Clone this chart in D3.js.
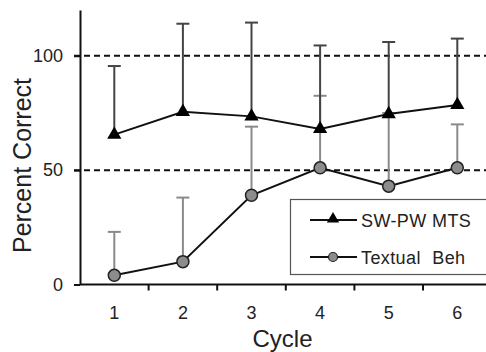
<!DOCTYPE html>
<html>
<head>
<meta charset="utf-8">
<script src="https://cdn.jsdelivr.net/npm/d3@7"></script>
<style>
  body { margin: 0; background: #fff; }
  svg { display: block; font-family: "Liberation Sans", Arial, sans-serif; }
  .axis text { font-size: 18px; fill: #222; }
  .axis path, .axis line { stroke: #111; stroke-width: 2; }
</style>
</head>
<body>
<div id="chart"></div>
<script>
// chart data
var cycles = [1, 2, 3, 4, 5, 6];
var mtsMean = [65.5, 75.5, 73.5, 68, 74.5, 78.5];
var mtsUpper = [95.5, 114, 114.5, 104.5, 106, 107.5];
var textMean = [4, 10, 39, 51, 43, 51];
var textUpper = [23, 38, 69, 82.5, 75, 70];
var yTicks = [0, 50, 100];
var gridLines = [50, 100];
var seriesNames = ["SW-PW MTS", "Textual Beh"];

var width = 486, height = 352;
var margin = {top: 10, left: 80, bottom: 67.5};

var svg = d3.select("#chart").append("svg")
    .attr("width", width)
    .attr("height", height);

//band scale for the cycles, plot runs past the right edge like the original
var x = d3.scaleBand()
    .domain(cycles)
    .range([margin.left, margin.left + 6 * 68.6]);

var y = d3.scaleLinear()
    .domain([0, 120])
    .range([height - margin.bottom, margin.top]);

var cx = function (c) { return x(c) + x.bandwidth() / 2; };

//dashed reference lines
svg.selectAll("line.grid").data(gridLines)
    .enter().append("line")
    .attr("class", "grid")
    .attr("x1", margin.left - 6)
    .attr("x2", width)
    .attr("y1", function (d) { return y(d); })
    .attr("y2", function (d) { return y(d); })
    .attr("stroke", "#111")
    .attr("stroke-width", 2)
    .attr("stroke-dasharray", "6,4");

//y axis
var yAxis = svg.append("g")
    .attr("class", "axis")
    .attr("transform", "translate(" + margin.left + ",0)")
    .call(d3.axisLeft(y).tickValues(yTicks).tickSize(6).tickSizeOuter(0).tickPadding(11));

//x axis: labels centred in bands, tick marks at band edges
var xAxis = svg.append("g")
    .attr("class", "axis")
    .attr("transform", "translate(0," + y(0) + ")")
    .call(d3.axisBottom(x).tickSize(0).tickPadding(21.5));
xAxis.select(".domain").attr("d", "M" + margin.left + ",0H" + width);

xAxis.selectAll("line.sep").data(cycles.slice(1))
    .enter().append("line")
    .attr("class", "sep")
    .attr("x1", function (d) { return x(d); })
    .attr("x2", function (d) { return x(d); })
    .attr("y1", 0)
    .attr("y2", 6);

//axis titles
svg.append("text")
    .attr("transform", "translate(30.5,165.5) rotate(-90)")
    .attr("text-anchor", "middle")
    .attr("font-size", 25)
    .attr("fill", "#222")
    .text("Percent Correct");

svg.append("text")
    .attr("x", 282.5)
    .attr("y", 347)
    .attr("text-anchor", "middle")
    .attr("font-size", 24)
    .attr("fill", "#222")
    .text("Cycle");

//error bars (upper half only)
function errorBars(means, uppers, color) {
    var g = svg.append("g");
    var data = cycles.map(function (c, i) { return {c: c, m: means[i], u: uppers[i]}; });
    g.selectAll("line.stem").data(data)
        .enter().append("line")
        .attr("x1", function (d) { return cx(d.c); })
        .attr("x2", function (d) { return cx(d.c); })
        .attr("y1", function (d) { return y(d.m); })
        .attr("y2", function (d) { return y(d.u); })
        .attr("stroke", color)
        .attr("stroke-width", 2);
    g.selectAll("line.cap").data(data)
        .enter().append("line")
        .attr("x1", function (d) { return cx(d.c) - 6.5; })
        .attr("x2", function (d) { return cx(d.c) + 6.5; })
        .attr("y1", function (d) { return y(d.u); })
        .attr("y2", function (d) { return y(d.u); })
        .attr("stroke", color)
        .attr("stroke-width", 2);
}
errorBars(textMean, textUpper, "#8a8a8a");
errorBars(mtsMean, mtsUpper, "#444");

var line = d3.line()
    .x(function (d) { return cx(d.c); })
    .y(function (d) { return y(d.v); });

function series(vals) {
    return cycles.map(function (c, i) { return {c: c, v: vals[i]}; });
}

svg.append("path")
    .datum(series(textMean))
    .attr("d", line)
    .attr("fill", "none")
    .attr("stroke", "#111")
    .attr("stroke-width", 2);

svg.append("path")
    .datum(series(mtsMean))
    .attr("d", line)
    .attr("fill", "none")
    .attr("stroke", "#111")
    .attr("stroke-width", 2);

var tri = d3.symbol().type(d3.symbolTriangle).size(88);

svg.selectAll("circle.text").data(series(textMean))
    .enter().append("circle")
    .attr("class", "text")
    .attr("cx", function (d) { return cx(d.c); })
    .attr("cy", function (d) { return y(d.v); })
    .attr("r", 6)
    .attr("fill", "#8c8c8c")
    .attr("stroke", "#222")
    .attr("stroke-width", 1.5);

svg.selectAll("path.tri").data(series(mtsMean))
    .enter().append("path")
    .attr("class", "tri")
    .attr("transform", function (d) { return "translate(" + cx(d.c) + "," + y(d.v) + ")"; })
    .attr("d", tri)
    .attr("fill", "#000");

//legend
var legend = svg.append("g");
legend.append("rect")
    .attr("x", 290.5)
    .attr("y", 199.5)
    .attr("width", 200)
    .attr("height", 75)
    .attr("fill", "#fff")
    .attr("stroke", "#555")
    .attr("stroke-width", 1.2);

var rows = legend.selectAll("g.row").data(seriesNames)
    .enter().append("g")
    .attr("class", "row")
    .attr("transform", function (d, i) { return "translate(0," + (220 + i * 37) + ")"; });

rows.append("line")
    .attr("x1", 310).attr("x2", 357)
    .attr("y1", 0).attr("y2", 0)
    .attr("stroke", "#111")
    .attr("stroke-width", 2);

rows.filter(function (d, i) { return i == 0; })
    .append("path")
    .attr("transform", "translate(333,-1)")
    .attr("d", d3.symbol().type(d3.symbolTriangle).size(65))
    .attr("fill", "#000");

rows.filter(function (d, i) { return i == 1; })
    .append("circle")
    .attr("cx", 333).attr("cy", 0).attr("r", 4.5)
    .attr("fill", "#8c8c8c")
    .attr("stroke", "#222")
    .attr("stroke-width", 1.2);

rows.append("text")
    .attr("x", 361)
    .attr("y", 6.5)
    .attr("font-size", 18)
    .attr("letter-spacing", 0.4)
    .attr("word-spacing", function (d, i) { return i == 1 ? 6 : 0; })
    .attr("fill", "#222")
    .text(function (d) { return d; });
</script>
</body>
</html>
